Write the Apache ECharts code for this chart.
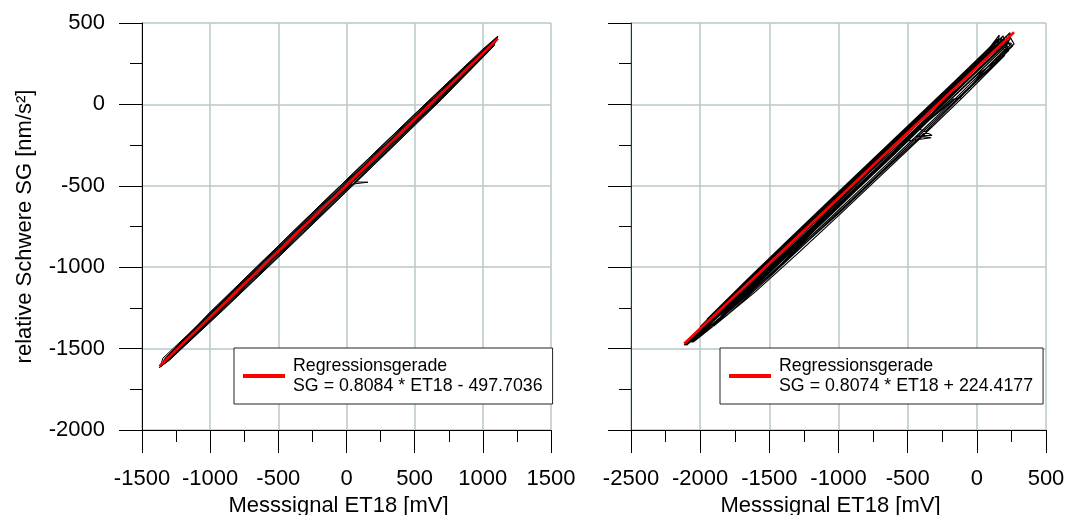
<!DOCTYPE html>
<html>
<head>
<meta charset="utf-8">
<title>SG vs ET18</title>
<script src="https://cdn.jsdelivr.net/npm/echarts@6/dist/echarts.min.js"></script>
<style>
html, body { margin: 0; padding: 0; background: #ffffff; }
#chart { width: 1072px; height: 515px; }
</style>
</head>
<body>
<div id="chart"></div>
<script>
//---------------- Daten links (Messsignal ET18 / relative Schwere SG) ----------------//
var leftET = [
    -1375, -1100, -700, -300, 100, 500, 900, 1111,
    1089, 700, 300, -100, -500, -900, -1300, -1368,
    -1346, -1000, -600, -200, 200, 600, 1000, 1100,
    1080, 800, 400, 60, 157, 40, -400, -800, -1200, -1360,
    -1300, -900, -500, -100, 300, 700, 1050,
    1030, 600, 200, -200, -600, -1000, -1250,
    -1250, -800, -400, 0, 400, 800, 1100,
    1095, 700, 300, -100, -500, -900, -1340,
    -1330, -950, -550, -150, 250, 650, 1060,
    1070, 750, 350, -50, -450, -850, -1320,
    -1320, -1000, -600, -200, 200, 600, 1000, 1090,
    1085, 700, 300, -100, -500, -900, -1330,
    -1290, -900, -500, -100, 300, 700, 1080,
    1075, 700, 300, -100, -500, -900, -1350,
    -1340, -1000, -600, -200, 200, 600, 1000, 1105,
    1060, 700, 300, -100, -500, -900, -1300, -1375
];
var leftSG = [
    -1608, -1365, -1032, -705, -382, -60, 255, 420,
    377, 38, -290, -613, -936, -1255, -1570, -1613,
    -1558, -1284, -958, -634, -312, 10, 330, 405,
    358, 127, -199, -476, -478, -490, -847, -1168, -1486, -1610,
    -1535, -1210, -886, -563, -240, 83, 365,
    322, -29, -352, -675, -999, -1321, -1520,
    -1503, -1139, -816, -492, -168, 154, 396,
    383, 63, -260, -584, -908, -1231, -1586,
    -1555, -1243, -916, -588, -265, 56, 375,
    350, 83, -244, -568, -893, -1214, -1585,
    -1560, -1288, -963, -639, -316, 6, 328, 400,
    362, 48, -275, -598, -922, -1244, -1590,
    -1530, -1215, -892, -568, -245, 78, 385,
    362, 58, -265, -589, -912, -1235, -1600,
    -1570, -1275, -950, -624, -301, 21, 340, 415,
    340, 32, -293, -617, -940, -1260, -1572, -1618
];
// Regressionsgerade links (Endpunkte)
var regLeftET = [-1370, 1111];
var regLeftSG = [-1606, 404];

//---------------- Daten rechts ----------------//
var rightET = [
    -1474, -1250, -950, -650, -350, -50, 162,
    140, -150, -450, -750, -1050, -1350, -1650, -1950, -2116,
    -2080, -1800, -1500, -1200, -900, -600, -300, 0, 230,
    269, 100, -122, -170, -250, -420, -324, -440, -330, -500, -800, -1100, -1400, -1700, -2000,
    -2000, -1700, -1400, -1100, -800, -500, -200, 100, 200,
    220, 0, -300, -600, -900, -1200, -1500, -1800, -2060,
    -2050, -1750, -1450, -1150, -850, -550, -250, 50, 180,
    250, 131, 0, -300, -600, -900, -1200, -1500, -1800, -2100,
    -2100, -1800, -1500, -1200, -900, -600, -300, 0, 240,
    230, -50, -350, -650, -950, -1250, -1550, -1850,
    -1850, -1550, -1250, -950, -650, -350, -50, 200,
    230, -100, -400, -700, -1000, -1300, -1600, -1900,
    -2110, -1900, -1600, -1300, -1000, -700, -400, -100, 150,
    200, -150, -450, -750, -1050, -1350, -1650, -1950, -2090,
    -2090, -1800, -1500, -1200, -900, -600, -300, 0, 150,
    260, 0, -300, -600, -900, -1200, -1500, -1800, -2050,
    -2050, -1750, -1450, -1150, -850, -550, -250, 50, 210,
    240, 0, -300, -600, -900, -1200, -1500, -1800, -2080,
    -2080, -1800, -1500, -1200, -900, -600, -300, 0, 220,
    200, -100, -400, -700, -1000, -1300, -1600, -1900,
    -2000, -1700, -1400, -1100, -800, -500, -200, 100, 190,
    200, -100, -400, -700, -1000, -1300, -1600, -1900, -2100,
    -2100, -1850, -1550, -1250, -950, -650, -350, -50, 180,
    170, -150, -450, -750, -1050, -1350, -1650, -1950,
    -1950, -1650, -1350, -1050, -750, -450, -150, 130
];
var rightSG = [
    -1030, -840, -585, -330, -75, 190, 426,
    320, 80, -165, -410, -650, -890, -1130, -1368, -1478,
    -1440, -1205, -960, -715, -470, -225, 22, 266, 430,
    371, 250, 39, 32, -30, -150, -190, -195, -205, -225, -470, -715, -955, -1195, -1425,
    -1380, -1135, -890, -645, -400, -150, 90, 332, 405,
    365, 185, -58, -300, -542, -784, -1027, -1265, -1462,
    -1440, -1180, -937, -694, -450, -207, 37, 280, 385,
    375, 260, 180, -60, -310, -550, -790, -1035, -1270, -1480,
    -1470, -1220, -975, -730, -487, -245, 0, 245, 440,
    385, 160, -88, -330, -573, -815, -1057, -1299,
    -1300, -1050, -800, -555, -305, -55, 195, 400,
    330, 60, -190, -430, -670, -900, -1125, -1345,
    -1478, -1300, -1055, -810, -565, -320, -75, 170, 395,
    335, 40, -205, -448, -690, -930, -1165, -1390, -1470,
    -1455, -1200, -950, -702, -458, -215, 28, 270, 400,
    360, 150, -95, -340, -582, -822, -1060, -1290, -1460,
    -1420, -1170, -926, -683, -440, -197, 46, 290, 415,
    400, 210, -33, -276, -518, -760, -1000, -1240, -1463,
    -1460, -1232, -990, -748, -505, -262, -18, 226, 395,
    300, 45, -200, -442, -683, -920, -1150, -1360,
    -1365, -1115, -868, -624, -380, -137, 105, 348, 420,
    392, 152, -89, -330, -572, -815, -1058, -1300, -1466,
    -1462, -1250, -1003, -758, -513, -269, -25, 218, 410,
    380, 123, -118, -360, -602, -846, -1090, -1336,
    -1320, -1068, -822, -578, -335, -92, 150, 380
];
var regRightET = [-2116, 269];
var regRightSG = [-1470, 443];

var legendLeft = 'Regressionsgerade\nSG = 0.8084 * ET18 - 497.7036';
var legendRight = 'Regressionsgerade\nSG = 0.8074 * ET18 + 224.4177';

function toPairs(xs, ys) {
    var out = [];
    for (var i = 0; i < xs.length; i++) {
        out.push([xs[i], ys[i]]);
    }
    return out;
}

var FONT = "'Liberation Sans', Arial, sans-serif";
var gridColor = '#b9c8c8';

// Zahlen ohne Tausendertrennzeichen
function plain(v) { return String(v); }

function makeX(idx, min, max) {
    return {
        type: 'value', gridIndex: idx, min: min, max: max, interval: 500,
        name: 'Messsignal ET18 [mV]', nameLocation: 'middle', nameGap: 63,
        nameTextStyle: { fontSize: 22, color: '#000', fontFamily: FONT, padding: [0, 16, 0, 0] },
        axisLine: { show: true, onZero: false, lineStyle: { color: '#000', width: 1 } },
        axisTick: { show: true, inside: false, length: 23, lineStyle: { color: '#000', width: 1 } },
        minorTick: { show: true, splitNumber: 2, length: 12, lineStyle: { color: '#000', width: 1 } },
        axisLabel: { fontSize: 22, color: '#000', fontFamily: FONT, margin: 38, formatter: plain, showMinLabel: true, showMaxLabel: true },
        splitLine: { show: true, lineStyle: { color: gridColor, width: 1.5 } }
    };
}

function makeY(idx, showLabel) {
    return {
        type: 'value', gridIndex: idx, min: -2000, max: 500, interval: 500,
        name: showLabel ? 'relative Schwere SG [nm/s²]' : '',
        nameLocation: 'middle', nameGap: 106, nameRotate: 90,
        nameTextStyle: { fontSize: 22, color: '#000', fontFamily: FONT },
        axisLine: { show: true, onZero: false, lineStyle: { color: showLabel ? '#000' : '#333', width: 1 } },
        axisTick: { show: true, inside: false, length: 23, lineStyle: { color: '#000', width: 1 } },
        minorTick: { show: true, splitNumber: 2, length: 12, lineStyle: { color: '#000', width: 1 } },
        axisLabel: { show: showLabel, fontSize: 22, color: '#000', fontFamily: FONT, margin: 37, formatter: plain, showMinLabel: true, showMaxLabel: true },
        splitLine: { show: true, lineStyle: { color: gridColor, width: 1.5 } }
    };
}

function makeLegend(left, text) {
    return {
        data: ['Regressionsgerade'],
        left: left, top: 348,
        orient: 'vertical',
        icon: 'rect', itemWidth: 42, itemHeight: 4,
        padding: [8, 10, 8, 9],
        backgroundColor: '#ffffff',
        borderColor: '#222', borderWidth: 1,
        selectedMode: false,
        formatter: function () { return text; },
        textStyle: { fontSize: 17.8, lineHeight: 20, color: '#000', fontFamily: FONT, padding: [0, 0, 0, 3] }
    };
}

var myChart = echarts.init(document.getElementById('chart'));
var option = {
    animation: false,
    backgroundColor: '#ffffff',
    grid: [
        { left: 142, top: 23, width: 409, height: 407, outerBoundsMode: 'none' },
        { left: 631, top: 23, width: 415, height: 407, outerBoundsMode: 'none' }
    ],
    xAxis: [makeX(0, -1500, 1500), makeX(1, -2500, 500)],
    yAxis: [makeY(0, true), makeY(1, false)],
    legend: [makeLegend(234, legendLeft), makeLegend(720, legendRight)],
    series: [
        {
            name: 'Messung links', type: 'line', xAxisIndex: 0, yAxisIndex: 0,
            symbol: 'none', silent: true,
            lineStyle: { color: '#000', width: 1 },
            data: toPairs(leftET, leftSG)
        },
        {
            name: 'Messung rechts', type: 'line', xAxisIndex: 1, yAxisIndex: 1,
            symbol: 'none', silent: true,
            lineStyle: { color: '#000', width: 1.2 },
            data: toPairs(rightET, rightSG)
        },
        {
            name: 'Regressionsgerade', type: 'line', xAxisIndex: 0, yAxisIndex: 0,
            symbol: 'none', z: 5,
            itemStyle: { color: '#ff0000' },
            lineStyle: { color: '#ff0000', width: 2.5 },
            data: toPairs(regLeftET, regLeftSG)
        },
        {
            name: 'Regressionsgerade', type: 'line', xAxisIndex: 1, yAxisIndex: 1,
            symbol: 'none', z: 5,
            itemStyle: { color: '#ff0000' },
            lineStyle: { color: '#ff0000', width: 2.5 },
            data: toPairs(regRightET, regRightSG)
        }
    ]
};
myChart.setOption(option);
</script>
</body>
</html>
